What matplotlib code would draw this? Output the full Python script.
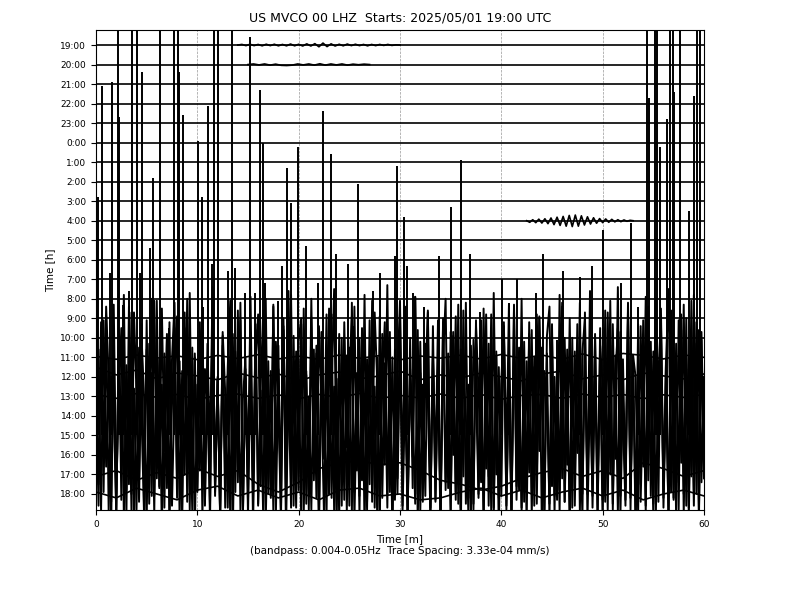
"""
Helicorder style day plot of a bandpassed LHZ channel, one trace per hour.
"""
import matplotlib
matplotlib.use("Agg")
import matplotlib.pyplot as plt
import numpy as np

# Hour labels, top to bottom (one trace per hour)
hour_labels = ["19:00", "20:00", "21:00", "22:00", "23:00", "0:00", "1:00",
               "2:00", "3:00", "4:00", "5:00", "6:00", "7:00", "8:00",
               "9:00", "10:00", "11:00", "12:00", "13:00", "14:00", "15:00",
               "16:00", "17:00", "18:00"]

###############################################################################
# Trace values, in units of trace spacing

# small ripple on the 19:00 trace, 14 - 30 min
ripple_19h = [0.0, 0.03, -0.03, 0.04, -0.03, 0.03, -0.04, 0.04, -0.03, 0.04,
              -0.04, 0.03, -0.04, 0.05, -0.04, 0.04, -0.05, 0.06, -0.05, 0.07,
              -0.09, 0.1, -0.08, 0.06, -0.05, 0.04, -0.04, 0.05, -0.03, 0.04,
              -0.03, 0.03, -0.04, 0.03, -0.03, 0.03, -0.02, 0.03, -0.02, 0.01,
              0.0]
# small ripple on the 20:00 trace, 15 - 27 min
ripple_20h = [0.0, 0.03, -0.02, 0.03, -0.03, 0.02, -0.04, -0.05, -0.03, 0.03,
              -0.02, 0.03, -0.03, 0.04, -0.03, 0.03, -0.02, 0.03, -0.03, 0.02,
              -0.01, 0.02, 0.0]
# wave train on the 4:00 trace, 42.5 - 53 min
wave_4h = [0.0, -0.08, 0.05, -0.1, 0.08, -0.12, 0.1, -0.15, 0.14, -0.2,
           0.18, -0.24, 0.22, -0.28, 0.27, -0.3, 0.29, -0.28, 0.25, -0.22,
           0.2, -0.17, 0.15, -0.13, 0.11, -0.1, 0.09, -0.08, 0.07, -0.06,
           0.05, -0.05, 0.04, -0.03, 0.02, 0.0]

# slow wander of the 11:00, 12:00, 13:00, 17:00 and 18:00 traces (2 min step)
wander_11h = [0.05, -0.1, 0.12, -0.04, 0.08, -0.12, 0.1, -0.06, 0.14, -0.08,
              0.06, -0.1, 0.12, -0.05, 0.09, -0.13, 0.07, -0.04, 0.11, -0.09,
              0.15, -0.06, 0.12, -0.1, 0.18, -0.12, 0.2, 0.1, -0.08, 0.12, 0.0]
wander_12h = [0.5, 0.1, 0.35, -0.1, 0.2, 0.05, -0.15, 0.2, -0.05, 0.15,
              -0.2, 0.1, 0.25, -0.1, 0.05, 0.3, -0.15, 0.1, -0.05, 0.2,
              0.0, -0.2, 0.15, 0.3, -0.1, 0.1, -0.15, 0.2, 0.05, -0.1, 0.15]
wander_13h = [0.1, -0.1, 0.15, -0.05, 0.1, -0.15, 0.05, 0.12, -0.1, 0.08,
              -0.12, 0.1, -0.05, 0.15, -0.1, 0.05, -0.08, 0.12, -0.1, 0.1,
              -0.15, 0.05, 0.1, -0.1, 0.12, -0.05, 0.1, -0.12, 0.08, -0.05, 0.1]
wander_17h = [-0.1, 0.2, -0.3, 0.1, -0.2, 0.3, -0.1, 0.2, -0.5, -0.9,
              -0.4, 0.3, 0.6, 0.7, 0.5, 0.6, 0.2, -0.3, -0.5, -0.8,
              -0.6, -0.2, 0.1, 0.3, -0.1, 0.2, -0.2, 0.6, 0.3, -0.1, 0.2]
wander_18h = [0.1, -0.2, 0.3, 0.0, -0.3, 0.2, 0.4, -0.1, 0.2, -0.2,
              0.1, -0.3, 0.2, 0.3, -0.1, 0.0, -0.3, -0.2, 0.1, 0.3,
              -0.1, 0.2, -0.2, 0.1, 0.3, -0.1, 0.2, -0.3, 0.0, 0.2, -0.1]

# strong noise on the 14:00, 15:00 and 16:00 traces (0.25 min step)
noise_14h = [1.2, -3.5, 4.8, -2.1, 5.6, 2.0, -4.4, 3.1, -5.2, 4.0,
             -1.5, 6.2, -3.8, 2.6, -4.9, 5.3, 1.1, -3.2, 4.7, -5.0,
             3.4, -2.3, 6.0, -4.1, 2.2, -3.6, 5.5, -1.8, 4.2, -4.8,
             2.9, 5.8, -3.3, 1.6, -5.1, 4.5, -2.7, 6.3, -4.0, 3.0,
             -3.9, 2.1, 5.1, -4.6, 3.7, -2.0, 6.6, -3.4, 1.9, -5.3,
             4.1, -3.0, 2.5, 5.9, -4.3, 3.3, -1.7, 4.9, -5.0, 2.4,
             -2.6, 6.1, -3.7, 4.4, -4.5, 1.5, 5.4, -3.1, 2.8, -4.2,
             5.7, -2.4, 3.6, -5.4, 4.6, -1.9, 6.4, -3.5, 2.0, -4.7,
             3.9, 5.0, -3.8, 2.3, -4.1, 6.0, -2.9, 3.2, -5.2, 4.3,
             -2.2, 5.2, -4.0, 1.4, 6.5, -3.6, 2.7, -4.6, 4.8, -1.6,
             3.5, -5.0, 5.6, -2.8, 4.0, -3.3, 6.2, -4.4, 2.6, -3.0,
             5.3, 1.8, -4.9, 4.2, -2.5, 6.7, -3.9, 3.0, -4.3, 2.1,
             5.9, -3.2, 4.5, -5.1, 2.4, -2.1, 6.1, -4.0, 3.8, -3.5,
             1.7, 5.4, -4.7, 3.1, -2.6, 4.9, -5.3, 2.9, 6.0, -3.7,
             4.3, -2.0, 5.1, -4.5, 3.4, -3.1, 5.8, -4.2, 2.2, -4.8,
             4.6, 1.3, -3.4, 5.5, -2.7, 3.7, -4.9, 6.3, -3.0, 2.5,
             -4.1, 4.8, -2.3, 5.7, -5.0, 3.2, 1.6, -3.8, 6.0, -4.4,
             2.8, -2.9, 4.4, -4.6, 5.2, -1.8, 3.5, -5.2, 4.1, 5.6,
             -3.6, 2.0, -4.3, 6.2, -3.2, 4.0, -2.5, 5.0, -4.7, 3.3,
             -1.9, 5.8, -4.0, 2.6, -3.5, 6.4, -2.8, 4.2, -5.1, 3.6,
             1.5, -4.4, 5.3, -3.0, 4.7, -2.2, 6.6, -4.1, 2.9, -3.7,
             5.4, -4.8, 3.1, 2.0, -5.0, 4.6, -2.6, 6.1, -3.3, 3.8,
             -4.5, 5.9, -2.1, 4.3, -4.2, 2.7, 6.5, -3.9, 3.5, -5.2,
             4.9, -2.4, 5.7, -4.6, 3.0, -3.1, 6.2, -4.0, 4.4, -3.4,
             2.0]
noise_15h = [-2.0, 4.4, -3.9, 5.9, -1.6, 3.2, -4.6, 6.7, -3.0, 2.1,
             5.5, -4.2, 3.6, -2.5, 6.3, -4.8, 2.8, -3.4, 5.0, 1.9,
             -4.4, 4.7, -3.1, 6.9, -2.2, 3.9, -5.0, 4.2, -2.7, 5.8,
             -3.6, 2.4, 6.1, -4.3, 3.3, -2.0, 7.0, -3.8, 4.5, -4.9,
             2.6, -1.8, 5.6, -3.5, 4.0, -4.5, 6.4, -2.9, 3.0, -4.1,
             5.3, 2.2, -3.7, 4.8, -5.1, 3.5, -2.4, 6.8, -4.0, 2.9,
             -3.3, 5.1, -4.7, 3.8, 6.2, -2.6, 4.1, -4.4, 2.0, -3.0,
             6.6, -4.1, 3.4, -2.1, 5.4, -4.9, 2.7, 7.2, -3.6, 4.3,
             -2.8, 5.7, -4.0, 3.1, -3.8, 6.0, -2.3, 4.6, -5.0, 3.7,
             1.6, -4.2, 6.5, -3.2, 2.5, -4.6, 5.2, -2.0, 4.9, -3.9,
             3.3, 6.1, -4.4, 2.3, -3.1, 5.5, -4.8, 3.9, -2.5, 6.9,
             -3.7, 4.0, -4.3, 2.8, 5.8, -3.0, 3.6, -5.1, 4.4, -2.2,
             6.3, -3.9, 2.1, -4.0, 5.0, -2.7, 7.1, -4.5, 3.2, -3.4,
             4.7, 1.7, -4.1, 5.6, -3.3, 3.0, -4.7, 6.0, -2.4, 4.2,
             -3.8, 5.3, -2.9, 3.7, -5.0, 6.4, -3.5, 2.6, -4.2, 4.9,
             2.3, -3.2, 5.9, -4.6, 3.4, -2.1, 6.2, -3.7, 4.1, -4.9,
             2.9, 5.4, -3.6, 3.1, -4.3, 6.7, -2.6, 4.5, -3.9, 2.4,
             -4.5, 5.8, -3.0, 4.0, -2.3, 6.1, -4.8, 3.3, 1.8, -3.5,
             5.2, -4.0, 3.8, -2.8, 6.6, -3.4, 4.4, -4.7, 2.7, -2.0,
             5.7, -3.9, 4.3, 6.0, -4.4, 2.5, -3.1, 5.0, -2.7, 3.6,
             -4.6, 6.4, -2.2, 4.6, -3.8, 3.0, 5.5, -4.1, 2.1, -3.3,
             6.8, -3.0, 4.1, -4.9, 3.5, -2.5, 5.9, -3.6, 4.8, 2.0,
             -4.2, 5.1, -3.4, 6.5, -2.9, 3.9, -4.5, 5.6, -3.2, 4.2,
             -2.4, 6.2, -4.0, 3.4, -3.7, 6.9, -2.8, 4.7, -4.3, 5.3,
             -1.5]
noise_16h = [3.0, -2.6, 5.8, -1.9, 7.1, -2.9, 4.0, 2.2, -3.0, 6.4,
             -2.3, 4.7, -3.1, 7.6, -2.0, 3.4, -2.8, 5.5, 1.8, -3.2,
             6.9, -2.5, 4.2, -3.0, 7.9, -1.7, 3.6, -2.7, 5.9, -3.3,
             2.6, 6.5, -2.2, 4.8, -3.1, 7.3, -2.4, 3.1, -2.9, 5.2,
             -1.8, 6.8, -3.2, 4.4, 2.4, -2.6, 7.7, -2.1, 3.8, -3.0,
             5.6, -2.7, 4.1, -3.3, 6.2, -1.9, 7.4, -2.8, 2.9, 5.0,
             -3.1, 4.5, -2.3, 6.7, -2.6, 3.3, -3.2, 8.0, -2.0, 4.3,
             -2.9, 5.8, 2.1, -3.0, 7.0, -2.4, 3.7, -2.7, 6.1, -1.8,
             4.9, -3.3, 7.5, -2.5, 3.0, -2.8, 5.4, -2.2, 6.6, 2.7,
             -3.1, 4.6, -2.0, 7.2, -2.9, 3.9, -3.2, 6.0, -2.3, 5.1,
             -2.6, 7.8, -1.9, 4.2, -3.0, 5.7, 2.5, -2.8, 6.9, -2.4,
             3.5, -3.1, 7.1, -2.2, 4.7, -2.7, 6.3, -3.3, 3.2, -2.0,
             5.9, -2.6, 7.6, -3.0, 4.0, 2.3, -2.5, 6.4, -2.9, 3.6,
             -2.1, 7.3, -3.2, 5.0, -2.4, 4.4, -2.8, 6.8, -1.8, 3.9,
             -3.0, 6.1, -2.3, 7.7, -2.7, 4.6, 2.0, -3.1, 5.6, -2.5,
             6.9, -2.0, 3.4, -2.9, 7.2, -2.6, 4.9, -3.2, 5.3, -2.2,
             3.1, 6.6, -2.8, 4.1, -3.0, 7.5, -2.3, 3.7, -2.7, 5.8,
             -1.9, 6.2, -3.1, 4.5, -2.5, 7.0, 2.6, -2.8, 5.2, -3.3,
             6.7, -2.1, 4.0, -2.9, 7.8, -2.4, 3.3, -3.0, 6.0, -2.6,
             4.8, 2.2, -3.2, 7.3, -2.0, 5.5, -2.7, 4.3, -3.1, 6.5,
             -2.3, 3.8, -2.8, 7.9, -2.5, 5.1, -3.0, 6.3, 1.9, -2.6,
             7.1, -2.2, 4.6, -3.2, 6.7, -2.4, 3.5, -2.9, 7.6, -2.1,
             5.3, -3.0, 4.2, 6.9, -2.7, 3.0, -3.1, 7.4, -2.3, 5.7,
             -2.8, 6.4, -2.0, 7.0, -3.2, 4.5, -2.6, 6.8, -2.9, 5.9,
             -1.2]

# large transients on the 15:00 trace: time [min] and peak [trace spacings]
spike_min = [0.1, 0.2, 0.6, 1.4, 1.6, 2.2, 2.3, 2.7, 3.3, 3.6,
             4.0, 4.3, 4.5, 5.3, 5.6, 6.3, 7.2, 7.7, 8.1, 8.2,
             8.6, 9.3, 10.1, 10.5, 10.6, 11.1, 11.4, 11.6, 12.0, 13.0,
             13.4, 13.7, 14.7, 15.2, 15.7, 16.2, 16.5, 16.7, 18.0, 18.4,
             18.8, 19.2, 19.9, 20.7, 21.9, 22.4, 23.2, 23.7, 24.9, 25.4,
             25.9, 27.3, 28.0, 29.5, 29.7, 30.4, 30.7, 31.3, 32.4, 33.8,
             35.0, 36.0, 36.9, 37.9, 40.1, 40.8, 41.5, 43.4, 44.1, 45.5,
             46.1, 47.8, 48.9, 50.0, 51.8, 52.8, 53.5, 54.4, 54.6, 55.2,
             55.4, 55.7, 56.3, 56.6, 56.9, 57.0, 57.6, 58.5, 59.0, 59.3,
             59.6]
spike_amp = [9.5, 12.2, 17.9, 8.3, 18.1, 25.0, 16.3, 6.7, 7.4, 25.0,
             25.0, 8.3, 18.6, 9.6, 13.2, 25.0, 5.5, 25.0, 25.0, 18.6,
             16.4, 4.1, 15.1, 12.2, 6.6, 16.9, 8.8, 25.0, 25.0, 8.4,
             25.0, 8.6, 7.3, 20.4, 7.3, 17.7, 15.0, 7.8, 6.9, 8.7,
             13.7, 11.9, 14.8, 9.7, 7.8, 16.6, 14.4, 9.3, 8.8, 5.6,
             12.9, 7.4, 8.3, 9.2, 13.8, 11.2, 8.7, 7.3, 6.6, 9.2,
             11.7, 14.1, 9.3, 6.3, 8.0, 6.8, 8.0, 7.3, 9.3, 4.9,
             8.4, 8.1, 8.7, 10.5, 7.8, 10.9, 6.6, 25.0, 17.3, 25.0,
             25.0, 14.8, 16.2, 25.0, 25.0, 17.6, 25.0, 11.5, 17.4, 25.0,
             25.0]

###############################################################################
# Plot

fig = plt.figure(figsize=(8, 6), dpi=100)
ax = fig.add_axes([0.12, 0.15, 0.76, 0.80])


def row(label):
    """Vertical offset of an hourly trace"""
    return -hour_labels.index(label)


def draw(label, t0, t1, values, lw=1.2):
    t = np.linspace(t0, t1, len(values))
    ax.plot(t, row(label) + np.asarray(values), color="k", lw=lw)


# quiet hours are plain baselines
busy = {"11:00", "12:00", "13:00", "14:00", "15:00", "16:00", "17:00", "18:00"}
for lab in hour_labels:
    if lab not in busy:
        draw(lab, 0, 60, [0.0, 0.0])

draw("19:00", 14, 30, ripple_19h)
draw("20:00", 15, 27, ripple_20h)
draw("4:00", 42.5, 53, wave_4h)

draw("11:00", 0, 60, wander_11h)
draw("12:00", 0, 60, wander_12h)
draw("13:00", 0, 60, wander_13h)
draw("14:00", 0, 60, noise_14h, lw=1.4)
draw("15:00", 0, 60, noise_15h, lw=1.4)
draw("16:00", 0, 60, noise_16h, lw=1.4)
draw("17:00", 0, 60, wander_17h)
draw("18:00", 0, 60, wander_18h)

base = row("15:00")
ax.vlines(spike_min, base, base + np.asarray(spike_amp), color="k", lw=1.4)

ax.set_xlim(0, 60)
ax.set_ylim(-23.82, 0.77)
ax.set_xticks(range(0, 61, 10))
ax.set_yticks([row(lab) for lab in hour_labels])
ax.set_yticklabels(hour_labels)
ax.tick_params(axis="both", labelsize=6.5)
ax.xaxis.grid(True, color="0.6", linestyle="--", lw=0.5)
ax.set_axisbelow(True)

ax.set_title("US MVCO 00 LHZ  Starts: 2025/05/01 19:00 UTC", fontsize=9)
ax.set_xlabel("Time [m]\n(bandpass: 0.004-0.05Hz  Trace Spacing: 3.33e-04 mm/s)",
              fontsize=7.5)
ax.set_ylabel("Time [h]", fontsize=7.5)

fig.savefig("out.png", dpi=100)
